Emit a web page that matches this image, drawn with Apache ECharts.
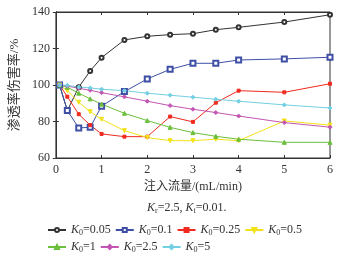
<!DOCTYPE html>
<html>
<head>
<meta charset="utf-8">
<script src="https://cdn.jsdelivr.net/npm/echarts@6/dist/echarts.min.js"></script>
<style>
  html, body { margin: 0; padding: 0; background: #fff; }
  #chart { width: 347px; height: 256px; }
</style>
</head>
<body>
<div id="chart"></div>
<script>
// injection rate, mL/min
const flowRates = [0.08, 0.25, 0.5, 0.75, 1, 1.5, 2, 2.5, 3, 3.5, 4, 5, 6];

const k005 = [100, 86, 98.8, 107.7, 115, 124.7, 126.7, 127.6, 128.1, 130.3, 131.6, 134.5, 138.5];
const k01 = [100, 86, 76.5, 76.8, 88.4, 96.4, 103.3, 108.6, 111.9, 111.9, 113.7, 114.3, 115.2];
const k025 = [100, 93.6, 84, 78, 73.2, 71.7, 71.7, 82.7, 79.8, 90.3, 96.9, 96, 100.7];
const k05 = [100, 96.9, 90.5, 85.4, 81.2, 75, 71.2, 69.5, 69.5, 70.3, 69.5, 80.3, 78];
const k1 = [100, 98.8, 95.5, 92.4, 89.5, 84.5, 80.5, 76.8, 73.9, 71.9, 70.3, 68.6, 68.6];
const k25 = [100, 99.4, 98.2, 97.1, 95.8, 93.5, 91.1, 88.7, 86.7, 84.9, 83, 79.4, 76.9];
const k5 = [100, 99.8, 98.9, 98.4, 97.7, 96.9, 95.5, 94.4, 93.3, 92.2, 91.1, 89.1, 87.4];

const seriesNames = ["0.05", "0.1", "0.25", "0.5", "1", "2.5", "5"];
const yTicks = [60, 80, 100, 120, 140];
const xTicks = [0, 1, 2, 3, 4, 5, 6];

const serif = "'Liberation Serif', 'Noto Sans CJK SC', serif";
const lineDefs = [
  { data: k005, color: "#333333", symbol: "emptyCircle", size: 4 },
  { data: k01, color: "#3f4fa6", symbol: "emptyRect", size: 5 },
  { data: k025, color: "#f02a1e", symbol: "rect", size: 3 },
  { data: k05, color: "#f2e21a", symbol: "triangle", size: 4, rotate: 180 },
  { data: k1, color: "#6cbf3c", symbol: "triangle", size: 4 },
  { data: k25, color: "#c355b4", symbol: "diamond", size: 4 },
  { data: k5, color: "#72d0e2", symbol: "diamond", size: 4 },
];

const chart = echarts.init(document.getElementById("chart"), null, { renderer: "canvas" });

const textRich = {
  k: { fontFamily: serif, fontStyle: "italic", fontWeight: "normal", fontSize: 12, color: "#333" },
  s: { fontFamily: serif, fontWeight: "normal", fontSize: 8, color: "#333", padding: [6, 0, 0, 0] },
  t: { fontFamily: serif, fontWeight: "normal", fontSize: 12, color: "#333" },
};

const axisLineStyle = { color: "#333", width: 1 };

const option = {
  backgroundColor: "#fff",
  animation: false,
  grid: {
    left: 51,
    right: 17,
    top: 12,
    bottom: 98,
    show: true,
    borderColor: "#333",
    borderWidth: 1,
  },
  title: {
    text: "{k|K}{s|r}{t|=2.5, }{k|K}{s|t}{t|=0.01.}",
    left: 142,
    top: 196,
    textStyle: { fontWeight: "normal", rich: textRich },
  },
  legend: {
    left: 42,
    top: 219,
    width: 300,
    itemWidth: 18,
    itemHeight: 5,
    itemGap: 4,
    data: seriesNames.map((n) => "K0=" + n),
    formatter: (name) => "{k|K}{s|0}{t|" + name.slice(2) + "}",
    textStyle: {
      width: 50,
      rich: {
        k: { fontFamily: serif, fontStyle: "italic", fontSize: 12, color: "#333", lineHeight: 15 },
        s: { fontFamily: serif, fontSize: 8, color: "#333", padding: [6, 0, 0, 0] },
        t: { fontFamily: serif, fontSize: 12, color: "#333" },
      },
    },
  },
  xAxis: [
    {
      type: "value",
      min: 0,
      max: 6,
      interval: 1,
      name: "注入流量/(mL/min)",
      nameLocation: "middle",
      nameGap: 22,
      nameTextStyle: { fontFamily: serif, fontSize: 12, color: "#333" },
      axisLine: { lineStyle: axisLineStyle },
      axisTick: { inside: true, length: 3, lineStyle: axisLineStyle },
      axisLabel: { fontFamily: serif, fontSize: 12, color: "#333", margin: 6,
        formatter: (v) => (xTicks.includes(v) ? String(v) : "") },
      splitLine: { show: false },
    },
    {
      type: "value",
      position: "top",
      min: 0,
      max: 6,
      interval: 1,
      axisLine: { lineStyle: axisLineStyle },
      axisTick: { inside: true, length: 3, lineStyle: axisLineStyle },
      axisLabel: { show: false },
      splitLine: { show: false },
    },
  ],
  yAxis: [
    {
      type: "value",
      min: 60,
      max: 140,
      interval: 20,
      name: "渗透率伤害率/%",
      nameLocation: "middle",
      nameGap: 29,
      nameTextStyle: { fontFamily: serif, fontSize: 13, color: "#333" },
      axisLine: { lineStyle: axisLineStyle },
      axisTick: { inside: true, length: 3, lineStyle: axisLineStyle },
      axisLabel: { fontFamily: serif, fontSize: 12, color: "#333", margin: 6,
        formatter: (v) => (yTicks.includes(v) ? String(v) : "") },
      splitLine: { show: false },
    },
    {
      type: "value",
      position: "right",
      min: 60,
      max: 140,
      interval: 20,
      axisLine: { lineStyle: axisLineStyle },
      axisTick: { inside: true, length: 3, lineStyle: axisLineStyle },
      axisLabel: { show: false },
      splitLine: { show: false },
    },
  ],
  series: lineDefs.map((d, i) => ({
    name: "K0=" + seriesNames[i],
    type: "line",
    data: flowRates.map((x, j) => [x, d.data[j]]),
    symbol: d.symbol,
    symbolSize: d.size,
    symbolRotate: d.rotate || 0,
    showAllSymbol: true,
    lineStyle: { color: d.color, width: 1 },
    itemStyle: { color: d.color, borderColor: d.color, borderWidth: 1 },
    emphasis: { disabled: true },
  })),
};

chart.setOption(option);
</script>
</body>
</html>
